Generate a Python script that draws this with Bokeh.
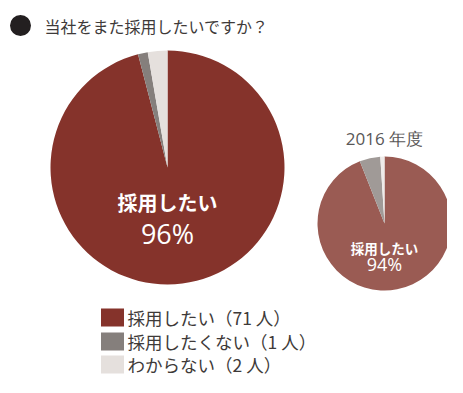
import math
from bokeh.plotting import figure
from bokeh.models import Range1d, ColumnDataSource
from bokeh.core.properties import value
from bokeh.embed import file_html
from bokeh.resources import INLINE

# ---- data ----
categories = ["採用したい", "採用したくない", "わからない"]
counts_now = [71, 1, 2]
share_2016 = [94, 5, 1]
colors_now = ["#85332B", "#857F7C", "#E5E0DD"]
colors_2016 = ["#9A5B53", "#A09A97", "#EEEBE9"]
title_text = "当社をまた採用したいですか？"
sub_title = "2016 年度"

W, H = 447, 377
FONT = "Noto Sans CJK JP"
NUMFONT = "Open Sans"

def X(px):
    return px

def Y(py):
    return H - py

p = figure(width=W, height=H, output_backend="svg", toolbar_location=None,
           x_range=Range1d(0, W), y_range=Range1d(0, H), min_border=0)
p.axis.visible = False
p.grid.visible = False
p.outline_line_color = None
p.background_fill_color = "white"
p.border_fill_color = "white"

def wedges(vals):
    tot = sum(vals)
    starts, ends = [], []
    cum = 0
    for v in vals:
        starts.append(math.pi / 2 - 2 * math.pi * cum / tot)
        cum += v
        ends.append(math.pi / 2 - 2 * math.pi * cum / tot)
    return starts, ends

# big pie
s, e = wedges(counts_now)
src = ColumnDataSource(dict(start=s, end=e, color=colors_now))
p.wedge(x=X(167), y=Y(167), radius=117, start_angle="start", end_angle="end",
        direction="clock", fill_color="color", line_color=None, source=src)

# small pie
s2, e2 = wedges(share_2016)
src2 = ColumnDataSource(dict(start=s2, end=e2, color=colors_2016))
p.wedge(x=X(384), y=Y(223), radius=67, start_angle="start", end_angle="end",
        direction="clock", fill_color="color", line_color=None, source=src2)

pct_now = round(100 * counts_now[0] / sum(counts_now))
pct_2016 = round(100 * share_2016[0] / sum(share_2016))

def txt(x, y, t, size, color, style="normal", align="center", font=FONT):
    p.text(x=[X(x)], y=[Y(y)], text=[t], text_font=value(font),
           text_font_size=f"{size}px", text_color=color, text_font_style=style,
           text_align=align, text_baseline="middle")

txt(167, 202, categories[0], 20, "white", "bold")
txt(167, 233, f"{pct_now}%", 27, "white", font=NUMFONT)
txt(384, 247, categories[0], 13.5, "white", "bold")
txt(384, 263, f"{pct_2016}%", 18, "white", font=NUMFONT)
txt(384, 138, sub_title, 17, "#595757", font=NUMFONT)

# title
p.scatter(x=[X(20)], y=[Y(25)], size=21, marker="circle", fill_color="#231F20", line_color=None)
txt(44, 25, title_text, 16, "#3E3A39", align="left")

# legend
rows_y = [317, 341, 364]
for i, cat in enumerate(categories):
    p.rect(x=[X(112)], y=[Y(rows_y[i])], width=23, height=18, fill_color=colors_now[i], line_color=None)
    txt(127, rows_y[i], f"{cat}（{counts_now[i]} 人）", 17.5, "#3E3A39", align="left")

open("out.html", "w").write(file_html(p, INLINE))
